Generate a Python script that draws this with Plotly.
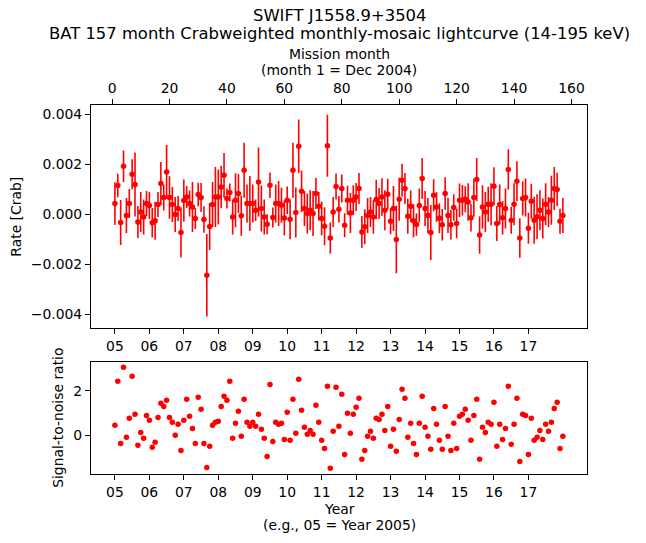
import plotly.graph_objects as go

months = list(range(1, 158))

rate = [0.00044, 0.00116, -0.00032, 0.00193, -0.00004, 0.00044, 0.00161, 0.0012, -0.0003, 0.0001,
        -0.0001, 0.00044, 0.00036, -0.00033, -0.00025, 0.0004, 0.00124, 0.00068, 0.0017, 0.00068,
        0.0004, 0.0, 0.00024, -0.00072, 0.00056, 0.0007, 0.00044, 0.0003, -0.00016, 0.0008,
        0.00068, -0.0002, -0.00243, -0.00048, 0.0004, 0.0007, 0.0007, 0.0011, 0.00157, 0.00064,
        0.00088, -0.0001, 0.00057, 0.00084, -0.00005, 0.00177, 0.00044, 0.00044, 0.00044, 0.00017,
        0.0013, 0.00024, -0.0001, -0.00039, 0.00117, -0.00012, 0.00044, 0.00044, 0.00037, -0.00014,
        0.00057, -0.00019, 0.00177, 0.00008, 0.00273, 0.00093, 0.00024, 0.00004, 0.00017, 0.00004,
        0.00084, 0.00033, -0.00016, -0.00047, 0.00275, -0.00094, 0.0001, 0.00112, 0.00021, 0.00104,
        -0.00043, 0.00057, 0.00006, 0.00057, 0.0007, 0.00104, -0.0007, -0.00049, -0.00004, 0.0001,
        -0.0001, 0.0006, 0.00044, 0.0007, 0.00017, 0.00081, -0.00027, 0.00024, -0.001, 0.00061,
        0.00137, 0.00104, -0.00007, 0.00033, -0.00025, -0.0004, 0.00036, 0.00144, 0.00024, -0.00004,
        -0.00072, 0.00077, 0.0003, -0.00015, -0.00041, 0.00084, -0.00004, -0.00041, 0.00028, -0.00036,
        0.00057, 0.00057, 0.00061, 0.0005, -0.00013, 0.00068, 0.0014, -0.00082, 0.0003, 0.0001,
        0.00041, 0.00041, 0.00113, -0.00036, 0.0004, -0.00013, 0.00024, 0.0018, -0.00023, 0.00041,
        0.00133, -0.00094, 0.00064, 0.00068, -0.00055, 0.00053, -0.00023, -0.00009, 0.00017, -0.00016,
        0.00041, 0.0001, 0.00057, 0.00104, 0.001, -0.00027, -0.00004]

rate_err = [0.00085, 0.00047, 0.0009, 0.00063, 0.0007, 0.00058, 0.0006, 0.00128, 0.00064, 0.0008,
            0.0007, 0.0005, 0.00054, 0.00059, 0.00076, 0.0005, 0.00086, 0.00052, 0.00108, 0.00085,
            0.0007, 0.0007, 0.0005, 0.001, 0.00084, 0.00044, 0.00052, 0.001, 0.00042, 0.00047,
            0.00058, 0.00053, 0.00165, 0.00094, 0.0009, 0.0012, 0.0011, 0.00085, 0.00089, 0.0004,
            0.00036, 0.0007, 0.00108, 0.00078, 0.0008, 0.0011, 0.00076, 0.0011, 0.00076, 0.00043,
            0.00138, 0.00092, 0.0007, 0.0004, 0.00051, 0.0004, 0.00076, 0.0009, 0.0007, 0.0007,
            0.00055, 0.0008, 0.0011, 0.001, 0.00107, 0.00083, 0.0007, 0.0008, 0.0008, 0.0009,
            0.00062, 0.00057, 0.00067, 0.00076, 0.00124, 0.00062, 0.0006, 0.00052, 0.00053, 0.00056,
            0.00048, 0.00058, 0.0008, 0.0006, 0.00056, 0.00062, 0.00064, 0.0007, 0.0007, 0.0006,
            0.00067, 0.00079, 0.00062, 0.00075, 0.0008, 0.00062, 0.00052, 0.0009, 0.00135, 0.00086,
            0.00066, 0.00062, 0.0007, 0.00063, 0.00066, 0.00045, 0.00068, 0.00082, 0.0007, 0.0007,
            0.0011, 0.00064, 0.0006, 0.0006, 0.00063, 0.00065, 0.0007, 0.00059, 0.00053, 0.00059,
            0.00067, 0.00061, 0.00052, 0.00075, 0.00055, 0.00076, 0.00086, 0.00075, 0.00087, 0.0008,
            0.0007, 0.00084, 0.00076, 0.0007, 0.0008, 0.00067, 0.0008, 0.00081, 0.00054, 0.00084,
            0.0008, 0.00079, 0.00068, 0.00076, 0.00062, 0.0007, 0.00094, 0.0009, 0.0008, 0.0008,
            0.00084, 0.0006, 0.00098, 0.00086, 0.00067, 0.0005, 0.0007]

snr = [0.44, 2.44, -0.38, 3.08, -0.10, 0.76, 2.67, 0.94, -0.47, 0.12,
       -0.15, 0.89, 0.67, -0.56, -0.33, 0.80, 1.44, 1.30, 1.58, 0.80,
       0.58, -0.01, 0.49, -0.70, 0.67, 1.62, 0.85, 0.30, -0.38, 1.71,
       1.17, -0.38, -1.47, -0.51, 0.44, 0.58, 0.62, 1.30, 1.76, 1.58,
       2.44, -0.15, 0.53, 1.08, -0.06, 1.62, 0.58, 0.40, 0.58, 0.40,
       0.94, 0.26, -0.15, -0.97, 2.30, -0.29, 0.58, 0.49, 0.53, -0.20,
       1.03, -0.24, 1.62, 0.08, 2.53, 1.12, 0.35, 0.03, 0.21, 0.03,
       1.35, 0.58, -0.24, -0.61, 2.21, -1.51, 0.17, 2.17, 0.40, 1.85,
       -0.88, 0.99, 0.08, 0.94, 1.26, 1.67, -1.10, -0.70, -0.06, 0.17,
       -0.15, 0.76, 0.71, 0.94, 0.21, 1.30, -0.51, 0.26, -0.74, 0.71,
       2.08, 1.67, -0.10, 0.53, -0.38, -0.88, 0.53, 1.76, 0.35, -0.06,
       -0.65, 1.21, 0.49, -0.24, -0.65, 1.30, -0.06, -0.70, 0.53, -0.61,
       0.85, 0.94, 1.17, 0.67, -0.24, 0.89, 1.62, -1.10, 0.35, 0.12,
       0.58, 0.49, 1.49, -0.51, 0.49, -0.20, 0.30, 2.21, -0.42, 0.49,
       1.67, -1.20, 0.94, 0.89, -0.88, 0.76, -0.24, -0.10, 0.21, -0.20,
       0.49, 0.17, 0.58, 1.21, 1.49, -0.61, -0.06]

year_labels = ['05', '06', '07', '08', '09', '10', '11', '12', '13', '14', '15', '16', '17']
year_tick_months = [1, 13, 25, 37, 49, 61, 73, 85, 97, 109, 121, 133, 145]
mission_ticks = [0, 20, 40, 60, 80, 100, 120, 140, 160]
rate_ticks = [-0.004, -0.002, 0.0, 0.002, 0.004]
rate_tick_text = ['\u22120.004', '\u22120.002', '0.000', '0.002', '0.004']
snr_ticks = [0, 2]
snr_tick_text = ['0', '2']

# ---- layout geometry (pixels) ----
W, H = 646, 543
PL, PR, PT, PB = 91, 587, 105, 474
TOP_PANEL = (105.0, 328.3)
BOT_PANEL = (361.7, 474.0)
XRANGE = [-7.33, 165.4]
FONT = 'DejaVu Sans'
TICK_SIZE = 13.9
TITLE_SIZE = 16.4
RED = '#ff0000'


def px_x(X):
    return (X - PL) / (PR - PL)


def px_y(Y):
    return (PB - Y) / (PB - PT)


fig = go.Figure()
fig.add_trace(go.Scatter(
    x=months, y=rate, mode='markers',
    marker=dict(color=RED, size=5.5),
    error_y=dict(type='data', array=rate_err, visible=True, color=RED, thickness=1.6, width=0),
    xaxis='x', yaxis='y', showlegend=False, hoverinfo='skip'))
fig.add_trace(go.Scatter(
    x=months, y=snr, mode='markers',
    marker=dict(color=RED, size=5.5),
    xaxis='x3', yaxis='y2', showlegend=False, hoverinfo='skip'))
fig.add_trace(go.Scatter(x=[0], y=[0], xaxis='x2', yaxis='y', mode='markers',
                         marker=dict(opacity=0), showlegend=False, hoverinfo='skip'))

axis_common = dict(showline=True, linecolor='black', linewidth=1.1, mirror=True,
                   ticks='outside', ticklen=5, tickwidth=1.1, tickcolor='black',
                   showgrid=False, zeroline=False, automargin=False,
                   tickfont=dict(family=FONT, size=TICK_SIZE, color='black'))

fig.update_layout(
    template='none',
    width=W, height=H,
    margin=dict(l=PL, r=W - PR, t=PT, b=H - PB, pad=0, autoexpand=False),
    paper_bgcolor='white', plot_bgcolor='white',
    font=dict(family=FONT, color='black'),
    xaxis=dict(axis_common, domain=[0, 1], anchor='y', range=XRANGE,
               tickmode='array', tickvals=year_tick_months, ticktext=year_labels),
    xaxis2=dict(axis_common, overlaying='x', side='top', anchor='y', range=XRANGE,
                tickmode='array', tickvals=mission_ticks,
                ticktext=[str(v) for v in mission_ticks], mirror=False),
    xaxis3=dict(axis_common, domain=[0, 1], anchor='y2', range=XRANGE,
                tickmode='array', tickvals=year_tick_months, ticktext=year_labels),
    yaxis=dict(axis_common, domain=[px_y(TOP_PANEL[1]), 1], anchor='x',
               range=[-0.00455, 0.004375], tickmode='array',
               tickvals=rate_ticks, ticktext=rate_tick_text),
    yaxis2=dict(axis_common, domain=[0, px_y(BOT_PANEL[0])], anchor='x3',
                range=[-1.77, 3.33], tickmode='array',
                tickvals=snr_ticks, ticktext=snr_tick_text),
)

cx = px_x((PL + PR) / 2)
texts = [
    ('SWIFT J1558.9+3504', cx, 16, TITLE_SIZE, 0),
    ('BAT 157 month Crabweighted monthly-mosaic lightcurve (14-195 keV)', cx, 34, TITLE_SIZE, 0),
    ('Mission month', cx, 54, TICK_SIZE, 0),
    ('(month 1 = Dec 2004)', cx, 70, TICK_SIZE, 0),
    ('Year', cx, 509, TICK_SIZE, 0),
    ('(e.g., 05 = Year 2005)', cx, 525, TICK_SIZE, 0),
    ('Rate [Crab]', px_x(16), (TOP_PANEL[0] + TOP_PANEL[1]) / 2, TICK_SIZE, -90),
    ('Signal-to-noise ratio', px_x(58), (BOT_PANEL[0] + BOT_PANEL[1]) / 2, TICK_SIZE, -90),
]
for t, x, Y, s, ang in texts:
    fig.add_annotation(text=t, x=x, y=px_y(Y), xref='paper', yref='paper',
                       showarrow=False, xanchor='center', yanchor='middle',
                       textangle=ang, font=dict(family=FONT, size=s, color='black'))

fig.write_html('out.html', config={'displayModeBar': False},
               post_script="document.body.style.margin='0px';")
